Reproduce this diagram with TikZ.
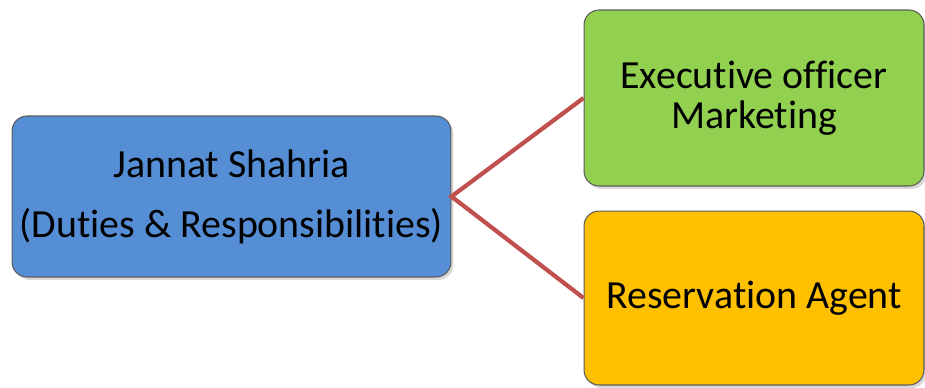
\documentclass[tikz,border=0pt]{standalone}
\usepackage{fontspec}
\setmainfont{Carlito}[Ligatures=NoCommon]
\usetikzlibrary{shadows}
\definecolor{rootc}{RGB}{85,142,213}
\definecolor{execc}{RGB}{146,208,80}
\definecolor{resvc}{RGB}{255,192,0}
\definecolor{linkc}{RGB}{192,80,77}
\definecolor{edgec}{RGB}{90,90,90}

\begin{document}
\begin{tikzpicture}[x=0.02cm, y=-0.02cm, font=\fontsize{22.7}{22.8}\selectfont,
  box/.style={draw=edgec, line width=0.6pt, rounded corners=0.3cm, align=center,
    inner sep=0pt, drop shadow={opacity=0.3, shadow xshift=0.05cm, shadow yshift=-0.06cm}},
  link/.style={draw=linkc, line width=2.4pt}]
  \useasboundingbox (0,0) rectangle (925,387);

  % boxes
  \node[box, fill=rootc, minimum width=8.78cm, minimum height=3.22cm] (root) at (231.5,196.5)
    {Jannat Shahria\\[0.4cm](Duties \& Responsibilities)};
  \node[box, fill=execc, minimum width=6.8cm, minimum height=3.52cm] (exec) at (754,98)
    {Executive officer\\Marketing};
  \node[box, fill=resvc, minimum width=6.8cm, minimum height=3.48cm] (resv) at (754,298)
    {Reservation Agent};

  % connectors
  \draw[link] (exec.west) -- (root.east) -- (resv.west);
\end{tikzpicture}
\end{document}
